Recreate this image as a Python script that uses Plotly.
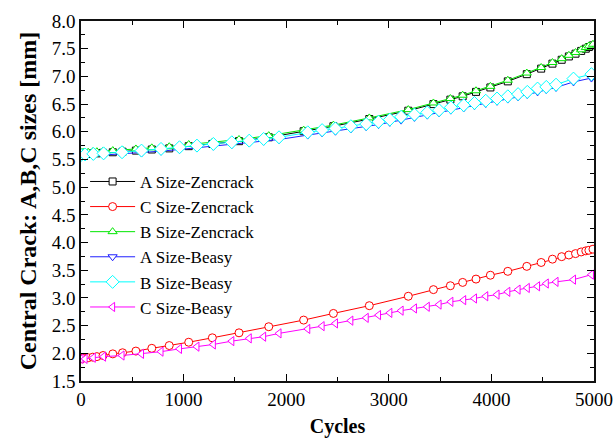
import plotly.graph_objects as go

# Zencrack sampling (cycles)
x_zen = [0, 20, 70, 115, 155, 215, 310, 405, 535, 690, 860, 1050, 1280, 1540, 1830,
         2170, 2460, 2810, 3190, 3435, 3600, 3720, 3850, 3990, 4160, 4345, 4485, 4595,
         4685, 4755, 4820, 4875, 4920, 4950, 4990]
a_zen = [5.60, 5.60, 5.60, 5.61, 5.61, 5.62, 5.63, 5.64, 5.66, 5.68, 5.70, 5.74, 5.78, 5.83, 5.90,
         6.01, 6.10, 6.23, 6.38, 6.50, 6.58, 6.64, 6.72, 6.80, 6.91, 7.04, 7.14, 7.23,
         7.30, 7.36, 7.41, 7.46, 7.50, 7.53, 7.56]
c_zen = [1.90, 1.91, 1.92, 1.93, 1.94, 1.96, 1.99, 2.01, 2.04, 2.09, 2.14, 2.20, 2.28, 2.37, 2.48,
         2.60, 2.72, 2.86, 3.03, 3.15, 3.22, 3.28, 3.34, 3.41, 3.48, 3.57, 3.64, 3.70,
         3.745, 3.775, 3.80, 3.83, 3.85, 3.86, 3.88]
b_zen = [5.63, 5.63, 5.63, 5.64, 5.64, 5.65, 5.66, 5.67, 5.69, 5.71, 5.73, 5.77, 5.81, 5.86, 5.93,
         6.03, 6.12, 6.25, 6.40, 6.52, 6.60, 6.66, 6.74, 6.82, 6.93, 7.06, 7.16, 7.25,
         7.32, 7.38, 7.43, 7.48, 7.52, 7.55, 7.58]

# Beasy sampling (cycles)
x_bea = [0, 40, 120, 220, 400, 590, 780, 960, 1130, 1290, 1470, 1640, 1780, 1930, 2210,
         2350, 2480, 2630, 2780, 2900, 3010, 3120, 3250, 3375, 3490, 3605, 3730, 3835,
         3945, 4055, 4160, 4260, 4350, 4450, 4535, 4630, 4800, 4975]
a_bea = [5.55, 5.56, 5.57, 5.58, 5.60, 5.62, 5.65, 5.68, 5.71, 5.74, 5.77, 5.80, 5.83, 5.86, 5.94,
         5.98, 6.01, 6.05, 6.09, 6.13, 6.17, 6.21, 6.26, 6.30, 6.34, 6.39, 6.43, 6.47,
         6.51, 6.55, 6.59, 6.63, 6.67, 6.72, 6.76, 6.80, 6.90, 6.97]
b_bea = [5.58, 5.59, 5.60, 5.61, 5.63, 5.66, 5.69, 5.72, 5.75, 5.78, 5.81, 5.84, 5.87, 5.90, 5.99,
         6.03, 6.06, 6.10, 6.14, 6.18, 6.22, 6.27, 6.31, 6.35, 6.39, 6.44, 6.48, 6.52,
         6.56, 6.60, 6.64, 6.68, 6.72, 6.78, 6.81, 6.85, 6.96, 7.04]
c_bea = [1.90, 1.90, 1.92, 1.94, 1.96, 1.99, 2.03, 2.08, 2.12, 2.16, 2.22, 2.27, 2.30, 2.36, 2.44,
         2.49, 2.54, 2.59, 2.64, 2.69, 2.73, 2.77, 2.81, 2.84, 2.88, 2.93, 2.96, 2.99,
         3.03, 3.06, 3.11, 3.15, 3.18, 3.21, 3.26, 3.29, 3.33, 3.42]

series = [
    ("A Size-Zencrack", x_zen, a_zen, "#000000", "square", 7),
    ("C Size-Zencrack", x_zen, c_zen, "#ff0000", "circle", 8),
    ("B Size-Zencrack", x_zen, b_zen, "#00e600", "triangle-up", 8),
    ("A Size-Beasy", x_bea, a_bea, "#2020ff", "triangle-down", 8),
    ("B Size-Beasy", x_bea, b_bea, "#00ffff", "diamond", 10),
    ("C Size-Beasy", x_bea, c_bea, "#ff00ff", "triangle-left", 8),
]

fig = go.Figure()
for name, xs, ys, col, sym, sz in series:
    fig.add_trace(go.Scatter(
        x=xs, y=ys, name=name, mode="lines+markers",
        line=dict(color=col, width=1),
        marker=dict(symbol=sym, size=sz, color="rgba(255,255,255,1)",
                    line=dict(color=col, width=1)),
    ))

font_family = "Times New Roman, Liberation Serif, serif"
axis_common = dict(
    showline=True, linecolor="#111", linewidth=1.5, mirror="allticks",
    ticks="inside", ticklen=7, tickwidth=1, tickcolor="#000",
    showgrid=False, zeroline=False, automargin=False,
    tickfont=dict(family=font_family, size=19, color="#000"),
)

fig.update_layout(
    width=615, height=438,
    margin=dict(l=81, r=21, t=21, b=57),
    paper_bgcolor="white", plot_bgcolor="white",
    font=dict(family=font_family, color="#000"),
    xaxis=dict(range=[0, 5000], dtick=1000, tick0=0,
               minor=dict(dtick=500, ticks="inside", ticklen=4, tickcolor="#000"),
               title=dict(text="<b>Cycles</b>", font=dict(family=font_family, size=20), standoff=12),
               **axis_common),
    yaxis=dict(range=[1.5, 8.0], dtick=0.5, tick0=1.5, tickformat=".1f",
               minor=dict(dtick=0.25, ticks="inside", ticklen=4, tickcolor="#000"),
               title=dict(text="<b>Central Crack: A,B,C sizes [mm]</b>",
                          font=dict(family=font_family, size=24), standoff=8),
               **axis_common),
    legend=dict(x=0.008, y=0.603, xanchor="left", yanchor="top",
                bgcolor="rgba(0,0,0,0)", borderwidth=0,
                font=dict(family=font_family, size=17, color="#000"),
                itemwidth=45, tracegroupgap=0),
    showlegend=True,
)

fig.write_html("out.html")
